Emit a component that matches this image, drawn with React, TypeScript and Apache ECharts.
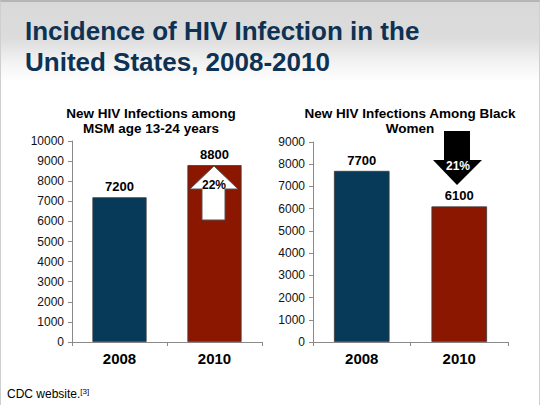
import React, { useEffect, useRef } from "react";
import * as echarts from "echarts";

const years = ["2008", "2010"];
const msmValues = [7200, 8800];
const blackWomenValues = [7700, 6100];
const barColors = ["#063a58", "#8c1700"];
const msmMax = 10000;
const bwMax = 9000;
const tickStep = 1000;
const msmChange = "22%";
const bwChange = "21%";
const slideTitle = "Incidence of HIV Infection in the\nUnited States, 2008-2010";
const msmTitle = "New HIV Infections among\nMSM age 13-24 years";
const bwTitle = "New HIV Infections Among Black\nWomen";

const FONT = "'Liberation Sans', Arial, Helvetica, sans-serif";

export default function App() {
  const ref = useRef<HTMLDivElement>(null);
  useEffect(() => {
    document.body.style.margin = "0";
    if (!ref.current) return;
    const chart = echarts.init(ref.current, undefined, { renderer: "svg" });

    const yAxisCommon = (max: number, gridIndex: number) => ({
      type: "value",
      gridIndex,
      min: 0,
      max,
      interval: tickStep,
      splitLine: { show: false },
      axisLine: { show: true, lineStyle: { color: "#8a8a8a", width: 1 } },
      axisTick: { show: true, length: 4, lineStyle: { color: "#8a8a8a" } },
      axisLabel: {
        color: "#111",
        fontSize: 12,
        fontFamily: FONT,
        margin: 8,
        formatter: (v: number) => String(v),
      },
    });
    const xAxisCommon = (gridIndex: number) => ({
      type: "category",
      gridIndex,
      data: years,
      axisLine: { show: true, lineStyle: { color: "#8a8a8a", width: 1 } },
      axisTick: { show: true, length: 4, alignWithLabel: false, lineStyle: { color: "#8a8a8a" } },
      axisLabel: { color: "#000", fontSize: 15, fontWeight: "bold", fontFamily: FONT, margin: 9 },
    });
    const barSeries = (values: number[], idx: number) => ({
      type: "bar",
      xAxisIndex: idx,
      yAxisIndex: idx,
      barWidth: "57%",
      data: values.map((v, i) => ({
        value: v,
        itemStyle: { color: barColors[i], borderColor: "#3a3a3a", borderWidth: 0.8 },
      })),
      label: {
        show: true,
        position: "top",
        distance: 4,
        color: "#000",
        fontSize: 13,
        fontWeight: "bold",
        fontFamily: FONT,
      },
    });

    chart.setOption({
      animation: false,
      textStyle: { fontFamily: FONT },
      title: [
        {
          text: msmTitle,
          left: 146,
          top: 101,
          textAlign: "center",
          textStyle: { fontSize: 13.5, fontWeight: "bold", color: "#000", lineHeight: 15, fontFamily: FONT },
        },
        {
          text: bwTitle,
          left: 405,
          top: 101,
          textAlign: "center",
          textStyle: { fontSize: 13.5, fontWeight: "bold", color: "#000", lineHeight: 15, fontFamily: FONT },
        },
      ],
      grid: [
        { left: 72, top: 141, width: 190, height: 201 },
        { left: 313, top: 142, width: 195, height: 200 },
      ],
      xAxis: [xAxisCommon(0), xAxisCommon(1)],
      yAxis: [yAxisCommon(msmMax, 0), yAxisCommon(bwMax, 1)],
      series: [barSeries(msmValues, 0), barSeries(blackWomenValues, 1)],
      graphic: [
        {
          type: "text",
          left: 25,
          top: 15,
          style: {
            text: slideTitle,
            fontSize: 26,
            fontWeight: "bold",
            fill: "#0d3253",
            lineHeight: 31,
            fontFamily: FONT,
          },
        },
        {
          type: "polygon",
          z: 100,
          shape: {
            points: [
              [214, 166], [238, 189], [225, 189], [225, 220], [202, 220], [202, 189], [190, 189],
            ],
          },
          style: { fill: "#ffffff", stroke: "#555", lineWidth: 1 },
        },
        {
          type: "text",
          z: 101,
          x: 214,
          y: 185,
          style: {
            text: msmChange,
            fontSize: 12,
            fontWeight: "bold",
            fill: "#000",
            align: "center",
            verticalAlign: "middle",
            fontFamily: FONT,
          },
        },
        {
          type: "polygon",
          z: 100,
          shape: {
            points: [
              [444, 131], [470, 131], [470, 160], [482, 160], [457, 185], [433, 160], [444, 160],
            ],
          },
          style: { fill: "#000000" },
        },
        {
          type: "text",
          z: 101,
          x: 458,
          y: 166,
          style: {
            text: bwChange,
            fontSize: 12,
            fontWeight: "bold",
            fill: "#ffffff",
            align: "center",
            verticalAlign: "middle",
            fontFamily: FONT,
          },
        },
        {
          type: "text",
          left: 7,
          top: 387,
          style: {
            text: "CDC website.{sup|[3]}",
            fontSize: 12,
            fill: "#000",
            fontFamily: FONT,
            rich: {
              sup: { fontSize: 8, padding: [0, 0, 6, 0], fill: "#000", fontFamily: FONT },
            },
          },
        },
      ],
    });
    return () => chart.dispose();
  }, []);

  return (
    <div
      style={{
        position: "fixed",
        left: 0,
        top: 0,
        width: 540,
        height: 405,
        boxSizing: "border-box",
        borderTop: "2px solid #b5b5b5",
        borderLeft: "1px solid #cfcfcf",
        borderRight: "1px solid #cfcfcf",
        background:
          "linear-gradient(to bottom, #d9d9d9 0px, #dcdcdc 36px, #f4f4f4 62px, #ffffff 80px, #ffffff 405px)",
      }}
    >
      <div ref={ref} style={{ position: "absolute", left: -1, top: -2, width: 540, height: 405 }} />
    </div>
  );
}
